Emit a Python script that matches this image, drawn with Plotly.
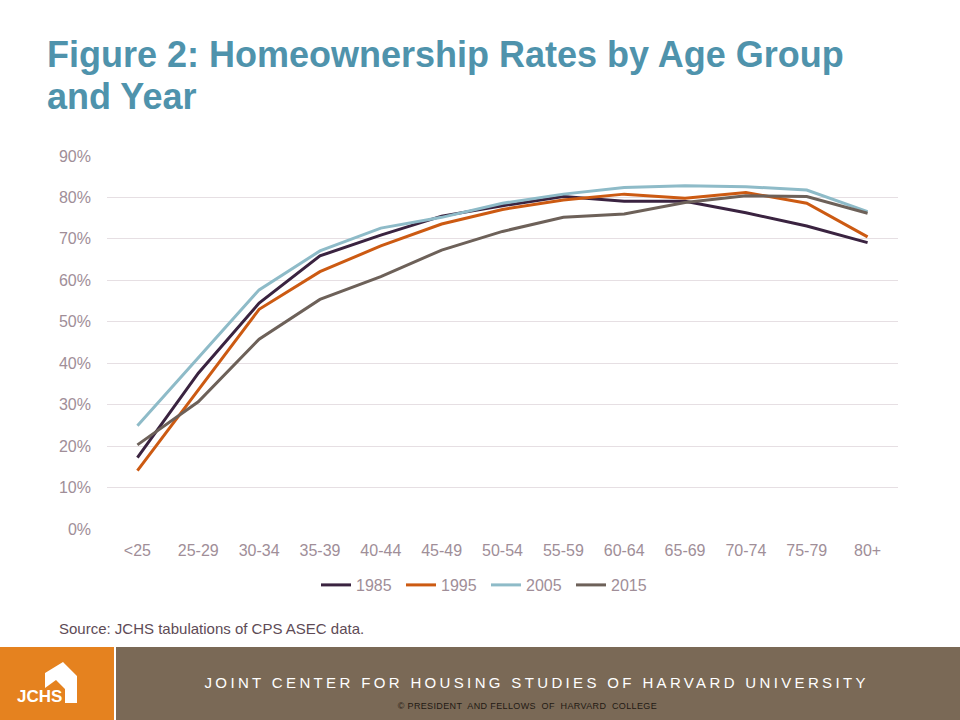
import plotly.graph_objects as go

categories = ["<25", "25-29", "30-34", "35-39", "40-44", "45-49", "50-54",
              "55-59", "60-64", "65-69", "70-74", "75-79", "80+"]
years = ["1985", "1995", "2005", "2015"]
rate_1985 = [17.2, 37.6, 54.5, 65.9, 70.9, 75.5, 78.0, 80.2, 79.1, 79.1, 76.3, 73.1, 69.1]
rate_1995 = [14.1, 33.7, 53.0, 62.1, 68.3, 73.6, 77.1, 79.4, 80.8, 79.8, 81.2, 78.6, 70.5]
rate_2005 = [24.9, 41.4, 57.7, 67.1, 72.6, 75.2, 78.6, 80.8, 82.4, 82.8, 82.6, 81.8, 76.6]
rate_2015 = [20.3, 30.7, 45.8, 55.4, 60.9, 67.3, 71.8, 75.2, 76.0, 78.8, 80.4, 80.2, 76.2]
y_ticks = [0, 10, 20, 30, 40, 50, 60, 70, 80, 90]

series = [rate_1985, rate_1995, rate_2005, rate_2015]
colors = ["#3A2340", "#CC5A12", "#8EBBC8", "#6D6159"]

W, H = 960, 720
L, R, T, B = 107, 62, 156, 191
PW, PH = W - L - R, H - T - B


def px(x):
    return (x - L) / PW


def py(y):
    return (H - B - y) / PH


fig = go.Figure()
for name, vals, col in zip(years, series, colors):
    fig.add_trace(go.Scatter(x=categories, y=vals, name=name, mode="lines",
                             line=dict(color=col, width=3)))

tick_color = "#A08E98"
fig.update_layout(
    width=W, height=H,
    margin=dict(l=L, r=R, t=T, b=B),
    paper_bgcolor="white", plot_bgcolor="white",
    font=dict(family="Liberation Sans, Arial, sans-serif", color=tick_color, size=16),
    showlegend=True,
    legend=dict(orientation="h", x=px(486), xanchor="center", y=py(585), yanchor="middle",
                font=dict(size=16, color=tick_color), itemwidth=30, tracegroupgap=0,
                entrywidth=40, entrywidthmode="pixels"),
    xaxis=dict(type="category", range=[-0.5, 12.5], showgrid=False, zeroline=False,
               showline=False, ticks="", tickfont=dict(size=16, color=tick_color),
               ticklabelstandoff=10),
    yaxis=dict(range=[0, 90], tickvals=y_ticks, ticktext=[f"{v}%" for v in y_ticks],
               showgrid=True, gridcolor="#E6DFE3", gridwidth=1, zeroline=False,
               showline=False, ticks="", tickfont=dict(size=16, color=tick_color),
               ticklabelstandoff=15),
)

# Title (two lines)
title_font = dict(family="Liberation Sans, Arial, sans-serif", size=36,
                  color="#4F93AC", weight="bold")
fig.add_annotation(text="Figure 2: Homeownership Rates by Age Group",
                   xref="paper", yref="paper", x=px(45), y=py(54), xanchor="left",
                   yanchor="middle", align="left", showarrow=False, font=title_font)
fig.add_annotation(text="and Year",
                   xref="paper", yref="paper", x=px(45), y=py(97), xanchor="left",
                   yanchor="middle", align="left", showarrow=False, font=title_font)

# Source
fig.add_annotation(text="Source: JCHS tabulations of CPS ASEC data.",
                   xref="paper", yref="paper", x=px(57), y=py(628), xanchor="left",
                   yanchor="middle", showarrow=False,
                   font=dict(family="Liberation Sans, Arial, sans-serif", size=15,
                             color="#5E4B56"))

# Footer boxes
fig.add_shape(type="rect", xref="paper", yref="paper", x0=px(0), x1=px(114),
              y0=py(720), y1=py(647), fillcolor="#E5821F", line=dict(width=0), layer="above")
fig.add_shape(type="rect", xref="paper", yref="paper", x0=px(116), x1=px(960),
              y0=py(720), y1=py(647), fillcolor="#7A6956", line=dict(width=0), layer="above")

# House logo
house = [(45, 673), (63, 662), (77, 676), (77, 703), (65, 703), (65, 689),
         (56, 680), (45, 688)]
path = "M " + " L ".join(f"{px(x)},{py(y)}" for x, y in house) + " Z"
fig.add_shape(type="path", xref="paper", yref="paper", path=path,
              fillcolor="white", line=dict(width=0), layer="above")
fig.add_annotation(text="JCHS", xref="paper", yref="paper", x=px(39), y=py(696),
                   xanchor="center", yanchor="middle", showarrow=False,
                   font=dict(family="Liberation Sans, Arial, sans-serif", size=17,
                             color="white", weight="bold"))

fig.add_annotation(text="JOINT CENTER FOR HOUSING STUDIES OF HARVARD UNIVERSITY",
                   xref="paper", yref="paper", x=px(536), y=py(682), xanchor="center",
                   yanchor="middle", showarrow=False,
                   font=dict(family="Liberation Sans, Arial, sans-serif", size=15,
                             color="white"))
fig.add_annotation(text="© PRESIDENT  AND FELLOWS  OF  HARVARD  COLLEGE",
                   xref="paper", yref="paper", x=px(527), y=py(706), xanchor="center",
                   yanchor="middle", showarrow=False,
                   font=dict(family="Liberation Sans, Arial, sans-serif",
                             size=9, color="#231A14"))

post = """
document.body.style.margin = '0';
document.body.style.overflow = 'hidden';
var targets = {'JOINT CENTER FOR HOUSING STUDIES OF HARVARD UNIVERSITY': 661,
               '\\u00a9 PRESIDENT  AND FELLOWS  OF  HARVARD  COLLEGE': 259};
document.querySelectorAll('.annotation-text').forEach(function(el){
  var t = el.textContent;
  Object.keys(targets).forEach(function(k){
    if (t.replace(/\\s+/g,' ') === k.replace(/\\s+/g,' ')) {
      var len = el.getComputedTextLength();
      var n = t.length;
      var sp = (targets[k] - len) / (n - 1);
      if (sp > 0) { el.style.letterSpacing = sp + 'px'; }
    }
  });
});
"""

fig.write_html("out.html", post_script=post, config={"displayModeBar": False})
